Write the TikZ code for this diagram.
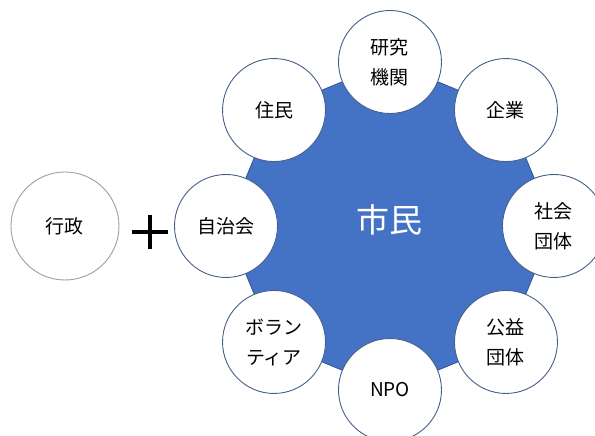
\documentclass[tikz,border=0pt]{standalone}
\usepackage{fontspec}
\newfontfamily\jpfont{Noto Sans CJK JP}
\usepackage{tikz}
\usetikzlibrary{backgrounds}
\definecolor{officeblue}{RGB}{68,114,196}
\definecolor{darkblue}{RGB}{47,82,143}
\definecolor{ringblue}{RGB}{70,95,140}

\begin{document}
\begin{tikzpicture}[x=1pt,y=1pt,
		main node/.style={circle,draw=ringblue,fill=white,line width=0.9pt,minimum size=103pt,
			inner sep=0pt,align=center,font=\jpfont\fontsize{19}{30}\selectfont},
		gray node/.style={main node,draw=gray!75,minimum size=108pt}]
		\useasboundingbox (-390,-210) rectangle (205,226);
		\node[font=\jpfont\fontsize{33}{33}\selectfont,text=white] (0) at (0,6) {市民};
		\node[main node] (1) at (90:164) {研究\\機関};
		\node[main node] (2) at (45:164) {企業};
		\node[main node] (3) at (0:164) {社会\\団体};
		\node[main node] (4) at (-45:164) {公益\\団体};
		\node[main node] (5) at (-90:164) {NPO};
		\node[main node] (6) at (-135:164) {ボラン\\ティア};
		\node[main node] (7) at (180:164) {自治会};
		\node[main node] (8) at (135:164) {住民};
		\node[gray node] (9) at (-325,0) {行政};
		\node (plus) at (-240,-6) {};
		\draw[line width=3.5pt] ([xshift=-18pt]plus.center) -- ([xshift=18pt]plus.center);
		\draw[line width=3.5pt] ([yshift=-17pt]plus.center) -- ([yshift=17pt]plus.center);
		\begin{scope}[on background layer]
			\filldraw[fill=officeblue,draw=darkblue,line width=0.8pt] (1.center) -- (2.center) -- (3.center)
			-- (4.center) -- (5.center) -- (6.center) -- (7.center) -- (8.center) -- cycle;
		\end{scope}
		\end{tikzpicture}
\end{document}
